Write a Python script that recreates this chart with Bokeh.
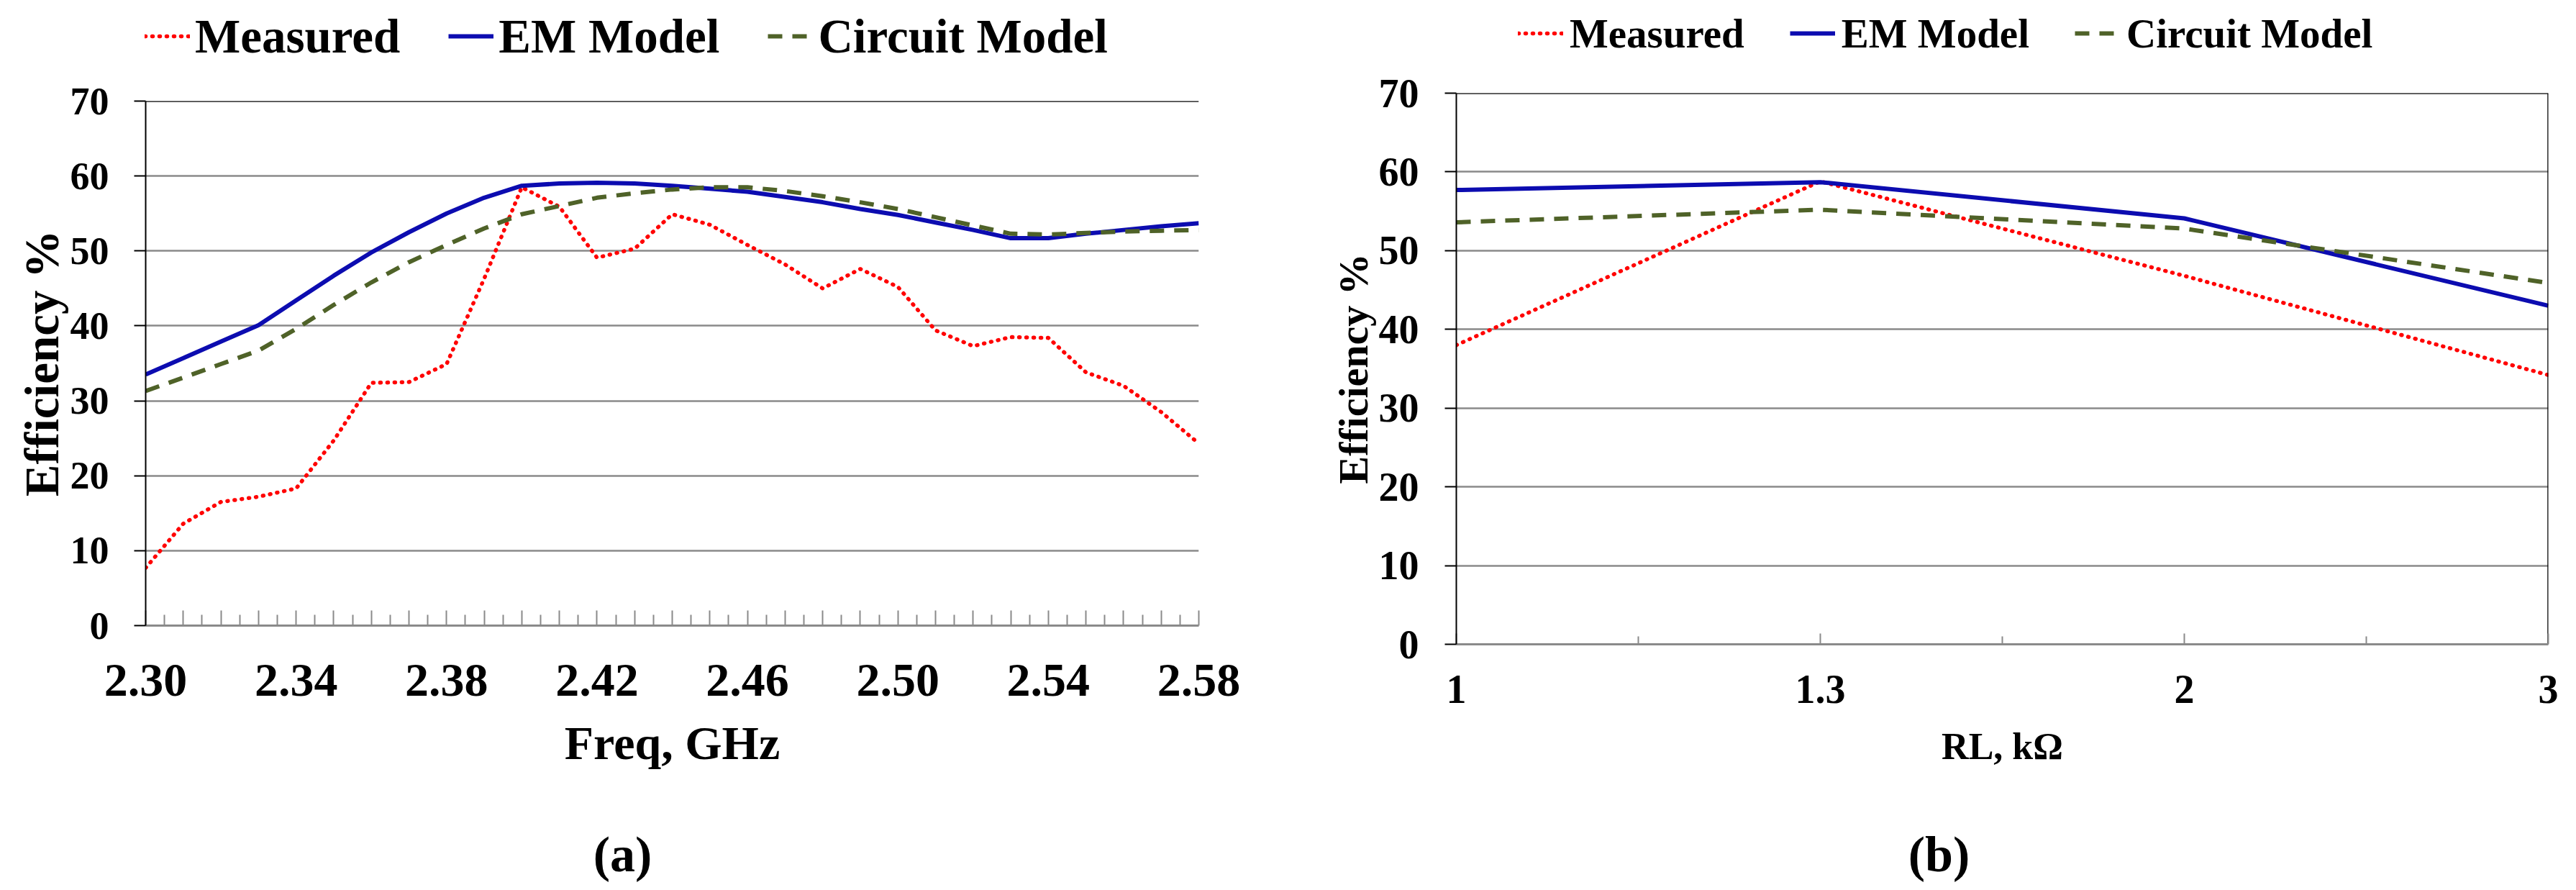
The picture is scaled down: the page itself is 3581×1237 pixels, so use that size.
from bokeh.plotting import figure
from bokeh.models import Range1d, FixedTicker, Legend, LegendItem, Span, Label
from bokeh.layouts import row, column
from bokeh.embed import file_html
from bokeh.resources import INLINE

# ---------------- data: panel (a) ----------------
freq = [2.30, 2.31, 2.32, 2.33, 2.34, 2.35, 2.36, 2.37, 2.38, 2.39,
        2.40, 2.41, 2.42, 2.43, 2.44, 2.45, 2.46, 2.47, 2.48, 2.49,
        2.50, 2.51, 2.52, 2.53, 2.54, 2.55, 2.56, 2.57, 2.58]
freq_labelled = [2.30, 2.34, 2.38, 2.42, 2.46, 2.50, 2.54, 2.58]
freq_tick_labels = ["2.30", "2.34", "2.38", "2.42", "2.46", "2.50", "2.54", "2.58"]
measured_a = [7.7, 13.6, 16.5, 17.2, 18.3, 24.7, 32.4, 32.5, 34.9, 46.3,
              58.5, 55.9, 49.1, 50.3, 54.9, 53.5, 50.8, 48.2, 45.0, 47.6,
              45.2, 39.4, 37.3, 38.5, 38.4, 33.8, 32.0, 28.5, 24.3]
em_a = [33.5, 35.7, 37.9, 40.1, 43.4, 46.7, 49.8, 52.5, 55.0, 57.1,
        58.7, 59.0, 59.1, 59.0, 58.7, 58.3, 57.9, 57.2, 56.5, 55.6,
        54.8, 53.8, 52.8, 51.7, 51.7, 52.3, 52.8, 53.3, 53.7]
circuit_a = [31.3, 33.1, 34.9, 36.7, 39.6, 42.8, 45.8, 48.5, 50.8, 53.0,
             54.9, 56.0, 57.1, 57.7, 58.2, 58.5, 58.5, 58.0, 57.3, 56.5,
             55.6, 54.5, 53.4, 52.3, 52.2, 52.4, 52.6, 52.7, 52.8]

# ---------------- data: panel (b) ----------------
rl_pos = [0, 1, 2, 3]
rl_labels = ["1", "1.3", "2", "3"]
measured_b = [38.0, 58.8, 46.8, 34.2]
em_b = [57.7, 58.7, 54.1, 43.0]
circuit_b = [53.6, 55.2, 52.8, 45.9]

y_ticks = [0, 10, 20, 30, 40, 50, 60, 70]
series_names = ["Measured", "EM Model", "Circuit Model"]

FONT = "Liberation Serif"
GRID = "#8a8a8a"
RED = "#ff0000"
BLUE = "#0c0cb0"
GREEN = "#4f6228"

LEG_H = 100      # legend strip height
MAIN_H = 1030    # plot height
CAP_H = 107      # caption strip height

STYLES = [dict(line_color=RED, line_width=5.5, line_dash="1 9", line_cap="round"),
          dict(line_color=BLUE, line_width=6),
          dict(line_color=GREEN, line_width=6, line_dash="20 14")]


def blank_fig(w, h, xr=None, yr=None):
    f = figure(width=w, height=h,
               x_range=xr if xr is not None else Range1d(0, w),
               y_range=yr if yr is not None else Range1d(0, h),
               x_axis_type=None, y_axis_type=None, output_backend="svg",
               toolbar_location=None, min_border=0)
    f.frame_align = False
    f.outline_line_color = None
    f.xgrid.visible = False
    f.ygrid.visible = False
    f.background_fill_color = "white"
    f.border_fill_color = "white"
    return f


def legend_fig(w, x, series, loc, font_px, standoff, spacing, h):
    # the strip only shows the legend: its ranges lie away from the series,
    # whose renderers supply the legend's line samples
    f = blank_fig(w, LEG_H, xr=Range1d(-2, -1), yr=Range1d(-2, -1))
    rends = [f.line(x, ys, **st) for ys, st in zip(series, STYLES)]
    items = [LegendItem(label=n, renderers=[r]) for n, r in zip(series_names, rends)]
    lg = Legend(items=items, orientation="horizontal", location=loc,
                glyph_width=63, glyph_height=h, label_height=h,
                label_standoff=standoff, spacing=spacing, padding=0, margin=0,
                border_line_color=None, background_fill_alpha=0,
                label_text_font=FONT, label_text_font_style="bold",
                label_text_font_size=f"{font_px}px", label_text_color="black",
                label_text_baseline="middle")
    f.add_layout(lg)
    return f


def caption_fig(w, text, cx, cy):
    f = blank_fig(w, CAP_H)
    f.add_layout(Label(x=cx, y=cy, text=text, text_font=FONT,
                       text_font_style="bold", text_font_size="70px",
                       text_align="center", text_baseline="middle",
                       text_color="black"))
    return f


def style_common(p, ytick_px, ytick_standoff, ytitle_px):
    p.frame_align = False
    p.outline_line_color = None
    p.background_fill_color = "white"
    p.border_fill_color = "white"
    p.xgrid.grid_line_color = None
    p.ygrid.ticker = FixedTicker(ticks=y_ticks)
    p.ygrid.grid_line_color = GRID
    p.ygrid.grid_line_width = 2.5
    ya = p.yaxis[0]
    ya.ticker = FixedTicker(ticks=y_ticks, minor_ticks=[])
    ya.axis_line_color = "black"
    ya.axis_line_width = 2
    ya.major_tick_line_color = "black"
    ya.major_tick_line_width = 2
    ya.major_tick_in = 0
    ya.major_tick_out = 16
    ya.minor_tick_line_color = None
    ya.major_label_text_font = FONT
    ya.major_label_text_font_style = "bold"
    ya.major_label_text_font_size = f"{ytick_px}px"
    ya.major_label_text_color = "black"
    ya.major_label_standoff = ytick_standoff
    ya.axis_label = "Efficiency %"
    ya.axis_label_text_font = FONT
    ya.axis_label_text_font_style = "bold"
    ya.axis_label_text_font_size = f"{ytitle_px}px"
    ya.axis_label_text_color = "black"
    ya.axis_label_standoff = 0
    p.add_layout(Span(location=y_ticks[-1], dimension="width",
                      line_color="black", line_width=2.5))


def style_xaxis(xa, tick_px, title, title_px, label_standoff, title_standoff,
                tin, tmin):
    xa.axis_line_color = GRID
    xa.axis_line_width = 3
    xa.major_tick_line_color = GRID
    xa.major_tick_line_width = 2
    xa.minor_tick_line_color = GRID
    xa.minor_tick_line_width = 2
    xa.major_tick_in = tin
    xa.major_tick_out = 0
    xa.minor_tick_in = tmin
    xa.minor_tick_out = 0
    xa.major_label_text_font = FONT
    xa.major_label_text_font_style = "bold"
    xa.major_label_text_font_size = f"{tick_px}px"
    xa.major_label_text_color = "black"
    xa.major_label_standoff = label_standoff
    xa.axis_label = title
    xa.axis_label_text_font = FONT
    xa.axis_label_text_font_style = "bold"
    xa.axis_label_text_font_size = f"{title_px}px"
    xa.axis_label_text_color = "black"
    xa.axis_label_standoff = title_standoff


def add_series(p, x, series):
    for ys, st in zip(series, STYLES):
        p.line(x, ys, **st)


# ---------------- panel (a) ----------------
W1 = 1800
series_a = [measured_a, em_a, circuit_a]
p1 = figure(width=W1, height=MAIN_H, x_range=Range1d(2.30, 2.58),
            y_range=Range1d(0, 70), output_backend="svg",
            toolbar_location=None, min_border_left=202, min_border_right=134,
            min_border_top=140 - LEG_H, min_border_bottom=LEG_H + MAIN_H - 869)
style_common(p1, 54, 35, 67)
xa1 = p1.xaxis[0]
xa1.ticker = FixedTicker(ticks=freq,
                         minor_ticks=[round(f + 0.005, 3) for f in freq[:-1]])
overrides = {f: "" for f in freq}
for f, lab in zip(freq_labelled, freq_tick_labels):
    overrides[f] = lab
xa1.major_label_overrides = overrides
style_xaxis(xa1, 66, "Freq, GHz", 66, 54, 26, 21, 15)
add_series(p1, freq, series_a)
l1 = legend_fig(W1, freq, series_a, (201, 10), 67, 7, 67, 80)
c1 = caption_fig(W1, "(a)", 865, CAP_H - (1187 - LEG_H - MAIN_H))

# ---------------- panel (b) ----------------
W2 = 1781
series_b = [measured_b, em_b, circuit_b]
p2 = figure(width=W2, height=MAIN_H, x_range=Range1d(0, 3),
            y_range=Range1d(0, 70), output_backend="svg",
            toolbar_location=None, min_border_left=224, min_border_right=39,
            min_border_top=129 - LEG_H, min_border_bottom=LEG_H + MAIN_H - 895)
style_common(p2, 56, 36, 58)
xa2 = p2.xaxis[0]
xa2.ticker = FixedTicker(ticks=rl_pos, minor_ticks=[0.5, 1.5, 2.5])
xa2.major_label_overrides = {pos: lab for pos, lab in zip(rl_pos, rl_labels)}
style_xaxis(xa2, 56, "RL, kΩ", 52, 43, 29, 15, 11)
add_series(p2, rl_pos, series_b)
p2.segment(x0=[rl_pos[-1]], y0=[y_ticks[0]], x1=[rl_pos[-1]], y1=[y_ticks[-1]],
           line_color="black", line_width=2.5)
l2 = legend_fig(W2, rl_pos, series_b, (2110 - W1, 17), 57, 9, 63, 74)
c2 = caption_fig(W2, "(b)", 2695 - W1, CAP_H - (1187 - LEG_H - MAIN_H))

layout = row(column(l1, p1, c1), column(l2, p2, c2))
open("out.html", "w").write(file_html(layout, INLINE))
